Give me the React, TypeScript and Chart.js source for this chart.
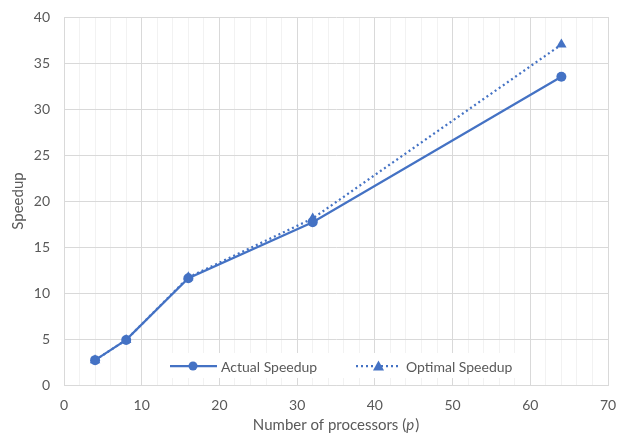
import React, { useEffect, useRef } from "react";
import { Chart, registerables } from "chart.js";

Chart.register(...registerables);

const processors = [4, 8, 16, 32, 64];
const actualSpeedup = [2.7, 4.9, 11.6, 17.7, 33.5];
const optimalSpeedup = [2.7, 4.9, 11.7, 18.1, 37.0];
const seriesNames = ["Actual Speedup", "Optimal Speedup"];
const xTitleParts = ["Number of processors (", "p", ")"];
const yTitle = "Speedup";

const BLUE = "#4472C4";
const TEXT = "#595959";
const FONT = "Lato, 'Liberation Sans', sans-serif";
const CLEAR = "rgba(0,0,0,0)";

const overlayPlugin = {
  id: "overlay",
  afterDraw(chart: any) {
    const ctx = chart.ctx;
    const area = chart.chartArea;
    ctx.save();
    // X axis title with italic p
    ctx.fillStyle = TEXT;
    ctx.textBaseline = "middle";
    const normal = `15px ${FONT}`;
    const italic = `italic 15px ${FONT}`;
    ctx.font = normal;
    const w0 = ctx.measureText(xTitleParts[0]).width;
    const w2 = ctx.measureText(xTitleParts[2]).width;
    ctx.font = italic;
    const w1 = ctx.measureText(xTitleParts[1]).width;
    const total = w0 + w1 + w2 + 1;
    let x = (area.left + area.right) / 2 - total / 2;
    const ty = 425;
    ctx.textAlign = "left";
    ctx.font = normal;
    ctx.fillText(xTitleParts[0], x, ty);
    x += w0;
    ctx.font = italic;
    ctx.fillText(xTitleParts[1], x, ty);
    x += w1 + 1;
    ctx.font = normal;
    ctx.fillText(xTitleParts[2], x, ty);

    // Legend inside plot
    const ly = 366;
    ctx.fillStyle = "#ffffff";
    ctx.fillRect(163, 353, 365, 25);
    ctx.font = `14px ${FONT}`;
    ctx.textBaseline = "middle";
    ctx.fillStyle = TEXT;
    // item 1
    ctx.strokeStyle = BLUE;
    ctx.lineWidth = 2.25;
    ctx.setLineDash([]);
    ctx.beginPath();
    ctx.moveTo(170, ly);
    ctx.lineTo(217, ly);
    ctx.stroke();
    ctx.fillStyle = BLUE;
    ctx.beginPath();
    ctx.arc(193, ly, 4.5, 0, Math.PI * 2);
    ctx.fill();
    ctx.fillStyle = TEXT;
    ctx.fillText(seriesNames[0], 221, ly + 1);
    // item 2
    ctx.strokeStyle = BLUE;
    ctx.setLineDash([2, 3]);
    ctx.beginPath();
    ctx.moveTo(356, ly);
    ctx.lineTo(401, ly);
    ctx.stroke();
    ctx.setLineDash([]);
    ctx.fillStyle = BLUE;
    ctx.beginPath();
    ctx.moveTo(378.5, ly - 5.5);
    ctx.lineTo(384, ly + 4.5);
    ctx.lineTo(373, ly + 4.5);
    ctx.closePath();
    ctx.fill();
    ctx.fillStyle = TEXT;
    ctx.fillText(seriesNames[1], 406, ly + 1);
    ctx.restore();
  },
};

export default function App() {
  const ref = useRef<HTMLCanvasElement | null>(null);
  useEffect(() => {
    if (!ref.current) return;
    const chart = new Chart(ref.current, {
      type: "line",
      data: {
        datasets: [
          {
            label: seriesNames[1],
            data: processors.map((p, i) => ({ x: p, y: optimalSpeedup[i] })),
            borderColor: BLUE,
            backgroundColor: BLUE,
            borderWidth: 2.25,
            borderDash: [2, 3],
            pointStyle: "triangle",
            pointRadius: 6,
            pointBorderWidth: 0,
            tension: 0,
          },
          {
            label: seriesNames[0],
            data: processors.map((p, i) => ({ x: p, y: actualSpeedup[i] })),
            borderColor: BLUE,
            backgroundColor: BLUE,
            borderWidth: 2.25,
            pointStyle: "circle",
            pointRadius: 5,
            pointBorderWidth: 0,
            tension: 0,
          },
        ],
      },
      options: {
        animation: false,
        responsive: false,
        devicePixelRatio: 1,
        layout: { padding: { top: 17, right: 11, left: 0, bottom: 0 } },
        plugins: { legend: { display: false }, tooltip: { enabled: false } },
        scales: {
          x: {
            type: "linear",
            min: 0,
            max: 70,
            afterFit: (s: any) => {
              s.height = 54;
            },
            afterBuildTicks: (s: any) => {
              const t = [];
              for (let v = 0; v <= 70; v += 2) t.push({ value: v });
              s.ticks = t;
            },
            ticks: {
              autoSkip: false,
              maxRotation: 0,
              padding: 0,
              color: TEXT,
              font: { family: FONT, size: 14 },
              callback: (v: any) => (Number(v) % 10 === 0 ? String(v) : ""),
            },
            grid: {
              drawTicks: true,
              tickLength: 12,
              tickColor: CLEAR,
              color: (c: any) =>
                c.tick && c.tick.value % 10 === 0 ? "#D9D9D9" : "#F2F2F2",
              lineWidth: 1,
            },
            border: { color: "#D9D9D9", width: 1 },
          },
          y: {
            min: 0,
            max: 40,
            afterFit: (s: any) => {
              s.width = 64;
            },
            ticks: {
              stepSize: 5,
              padding: 0,
              color: TEXT,
              font: { family: FONT, size: 14 },
            },
            grid: {
              drawTicks: true,
              tickLength: 14,
              tickColor: CLEAR,
              color: "#D9D9D9",
              lineWidth: 1,
            },
            border: { color: "#D9D9D9", width: 1 },
            title: {
              display: true,
              text: yTitle,
              color: TEXT,
              font: { family: FONT, size: 15 },
              padding: { top: 9, bottom: 0 },
            },
          },
        },
      },
      plugins: [overlayPlugin],
    });
    return () => chart.destroy();
  }, []);
  return (
    <div style={{ position: "absolute", left: 0, top: 0, width: 619, height: 439, background: "#fff" }}>
      <canvas ref={ref} width={619} height={439} style={{ width: 619, height: 439 }} />
    </div>
  );
}
